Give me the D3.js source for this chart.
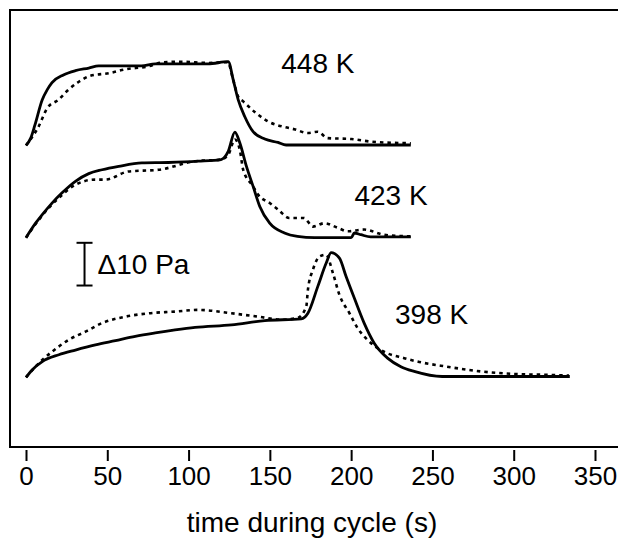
<!DOCTYPE html>
<html>
<head>
<meta charset="utf-8">
<script src="https://cdn.jsdelivr.net/npm/d3@7"></script>
<style>
    body { margin: 0; background: #fff; }
    text { font-family: "Liberation Sans", Arial, sans-serif; fill: #000; }
</style>
</head>
<body>
<div id="chart-area"></div>
<script>
// time (s), pressure change (Pa) relative to each baseline
let solid448 = [[0, 0], [2.9, 1.7], [5.5, 4.8], [10, 10.7], [13, 13.0], [16, 14.7], [23, 16.5],
    [30.4, 17.5], [38.6, 18.1], [44.7, 18.6], [71, 18.6], [79.5, 19.1], [112, 19.1], [124.4, 19.6],
    [127.5, 15.3], [130.5, 10.7], [134.6, 6.7], [139.7, 3.2], [146.9, 1.5], [155, 0.7], [160, 0.1],
    [236.7, 0.1]];
let dotted448 = [[0, 0], [8, 4.6], [13, 8.7], [20, 10.7], [26, 13.0], [32.5, 14.9], [39.6, 16.3],
    [50.9, 16.9], [61, 17.8], [75, 18.5], [83.5, 19.4], [95.8, 19.6], [112, 19.3], [124, 19.5],
    [127.5, 15.3], [130.5, 11.4], [133.6, 10.3], [141.7, 7.5], [148.9, 5.6], [159, 4.3], [165, 3.8],
    [173.4, 2.9], [179.5, 3.2], [185.6, 1.7], [200, 1.5], [212, 0.9], [236.7, 0.5]];

let solid423 = [[0, 0], [5.9, 3.4], [10, 5.4], [16, 8.1], [22.2, 10.5], [30.4, 13.2], [38.6, 15.0],
    [46.8, 15.9], [57, 16.7], [71.3, 17.5], [87.6, 17.6], [106, 17.9], [120, 18.3], [124.4, 20.2],
    [128.5, 24.7], [131.5, 22.2], [135.6, 16.7], [139.7, 12.0], [143.8, 7.3], [149.9, 3.4],
    [159, 1.1], [167, 0.3], [177.5, 0], [200, 0], [202, 1.1], [206, 0.7], [212, 0.2], [236.7, 0.2]];
let dotted423 = [[0, 0], [5.9, 3.2], [10, 5.2], [16, 7.8], [22.2, 10.0], [30.4, 12.4], [42.7, 13.6],
    [48.8, 13.6], [63, 15.5], [81.5, 15.9], [104, 17.9], [120, 18.3], [124.4, 19.4], [128.5, 23.0],
    [131.5, 20.6], [133.6, 15.9], [139.7, 12.0], [142.7, 10.1], [149.9, 8.1], [155, 6.6], [162, 4.6],
    [171, 4.6], [176.5, 2.6], [183.6, 3.4], [191.8, 2.3], [198, 1.5], [208, 1.9], [220, 0.7],
    [236.7, 0.3]];

let solid398 = [[0, 0], [3.9, 1.8], [10, 3.7], [20.2, 5.3], [30.4, 6.4], [42.7, 7.6], [55, 8.6],
    [67.2, 9.6], [79.5, 10.4], [91.7, 11.1], [104, 11.7], [126.4, 12.3], [146.9, 13.3], [169.3, 13.7],
    [173.4, 15.0], [179.5, 21.3], [184.6, 26.7], [187.7, 29.2], [192.8, 27.9], [196.9, 23.6],
    [202, 18.5], [208, 12.7], [214.2, 8.0], [222.4, 4.5], [230.6, 2.5], [238.8, 1.4], [256, 0.2],
    [334.5, 0.2]];
let dotted398 = [[0, 0], [10, 4.1], [16, 6.0], [26.3, 8.8], [36.6, 10.7], [46.7, 12.7], [61, 14.2],
    [75.4, 15.0], [91.7, 15.4], [106, 15.8], [126.4, 15.0], [143, 14.2], [157, 13.5], [167, 13.9],
    [172.4, 16.6], [173.4, 20.5], [176.5, 25.2], [180.6, 28.3], [184.6, 28.7], [188.8, 24.4],
    [192.8, 19.3], [199, 15.0], [204, 11.5], [210, 8.8], [220.2, 6.0], [232.6, 4.5], [240.8, 3.7],
    [259, 2.5], [279.5, 1.4], [300, 0.8], [320.4, 0.6], [334, 0.4]];

let temps = ["448 K", "423 K", "398 K"];
let offsets = [54.3, 32.7, 0];          // vertical stacking of the curves (Pa)
let labelPos = [[157, 71.3], [202, 40.4], [227, 12.5]];  // [time, Pa] of each label
let scaleBar = [[36, 21.5], [36, 31.5]]; // 10 Pa bar
let xTicks = [0, 50, 100, 150, 200, 250, 300, 350];

let width = 618, height = 540;
let margin = {left: 10, top: 10, bottom: 93};
let fontSize = "28px";

let svg = d3.select("#chart-area")
    .append("svg")
    .attr("width", width)
    .attr("height", height);

let x = d3.scaleLinear().domain([0, 350]).range([26, 595]);
let y = d3.scaleLinear().domain([-16.3, 86.0]).range([height - margin.bottom, margin.top]);

// frame
svg.append("path")
    .attr("d", `M${width + 5},${margin.top}H${margin.left}V${height - margin.bottom}H${width + 5}`)
    .attr("fill", "none")
    .attr("stroke", "#000")
    .attr("stroke-width", 2);

// X Axis
let xAxisCall = d3.axisBottom(x)
    .tickValues(xTicks)
    .tickSize(11)
    .tickPadding(6)
    .tickFormat(d3.format("d"));

let xAxisGroup = svg.append("g")
    .attr("class", "x axis")
    .attr("transform", `translate(0,${height - margin.bottom + 3})`)
    .call(xAxisCall);

xAxisGroup.select(".domain").remove();
xAxisGroup.selectAll("line").attr("stroke", "#000").attr("stroke-width", 2);
xAxisGroup.selectAll("text")
    .attr("font-size", "26px")
    .attr("font-family", "Liberation Sans, Arial, sans-serif")
    .attr("fill", "#000");

svg.append("text")
    .attr("x", 312)
    .attr("y", 532)
    .attr("text-anchor", "middle")
    .attr("font-size", fontSize)
    .text("time during cycle (s)");

// curves
let series = [
    {solid: solid448, dotted: dotted448},
    {solid: solid423, dotted: dotted423},
    {solid: solid398, dotted: dotted398}
];

series.forEach((s, i) => {
    let line = d3.line()
        .x(d => x(d[0]))
        .y(d => y(d[1] + offsets[i]))
        .curve(d3.curveMonotoneX);

    svg.append("path")
        .attr("d", line(s.dotted))
        .attr("fill", "none")
        .attr("stroke", "#000")
        .attr("stroke-width", 2.6)
        .attr("stroke-dasharray", "3.5,4");

    svg.append("path")
        .attr("d", line(s.solid))
        .attr("fill", "none")
        .attr("stroke", "#000")
        .attr("stroke-width", 2.8)
        .attr("stroke-linejoin", "round");

    svg.append("text")
        .attr("x", x(labelPos[i][0]))
        .attr("y", y(labelPos[i][1]))
        .attr("font-size", fontSize)
        .text(temps[i]);
});

// 10 Pa scale bar
let barX = x(scaleBar[0][0]);
let barTop = y(scaleBar[1][1]), barBottom = y(scaleBar[0][1]);
svg.append("line")
    .attr("x1", barX).attr("x2", barX)
    .attr("y1", barTop).attr("y2", barBottom)
    .attr("stroke", "#000").attr("stroke-width", 2);
[barTop, barBottom].forEach(yy => {
    svg.append("line")
        .attr("x1", barX - 8).attr("x2", barX + 8)
        .attr("y1", yy).attr("y2", yy)
        .attr("stroke", "#000").attr("stroke-width", 2);
});
svg.append("text")
    .attr("x", barX + 13)
    .attr("y", barBottom - 12)
    .attr("font-size", fontSize)
    .text("Δ10 Pa");
</script>
</body>
</html>
